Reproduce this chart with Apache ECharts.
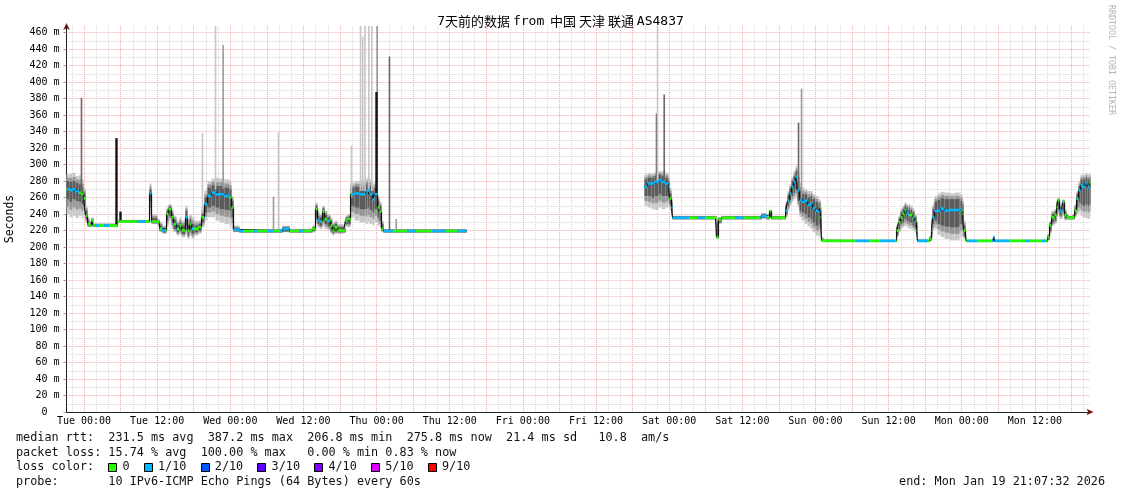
<!DOCTYPE html>
<html><head><meta charset="utf-8">
<script src="https://cdn.jsdelivr.net/npm/echarts@6/dist/echarts.min.js"></script>
<style>html,body{margin:0;padding:0;background:#fff}#c{width:1121px;height:494px}</style>
</head><body><div id="c"></div>
<script>
// ---- time axis: hours since start (Mon Jan 12 21:07:32) ----
const hours = [
 0,0.5,1,1.5,2,2.46,2.8,3.12,3.45,3.77,
 4.1,4.4,8.1,8.37,13.29,13.62,13.95,14.93,15.26,15.75,
 16.41,16.74,17.23,17.56,18.05,18.54,18.87,19.52,19.85,20.18,
 20.51,21,21.66,22.15,22.64,23.13,23.79,24.45,25.1,25.92,
 26.74,27.07,27.4,28.38,34,35.44,36.59,39.87,40.36,40.85,
 41.18,41.51,42,42.33,42.82,43.31,43.64,43.97,44.46,45.45,
 45.77,46.1,46.6,47.25,48.07,49.06,49.39,49.71,50.21,50.53,
 51.03,51.35,51.68,52.01,65.63,
 80,
 94.83,95.32,95.98,96.47,97.13,97.62,98.28,98.77,98.93,99.26,
 99.43,106.48,106.64,106.97,107.47,113.37,114,114.85,115.34,115.67,
 117.64,117.97,118.29,118.62,118.95,119.28,119.61,119.93,120.26,120.59,
 121.08,121.57,122.07,122.4,122.89,123.38,123.54,123.71,123.87,124.2,
 135.85,136.18,136.5,136.83,137.16,137.49,137.82,138.15,138.47,138.8,
 139.13,139.46,139.62,141.26,141.59,141.92,142.08,142.41,142.9,143.4,
 144.05,144.87,145.69,146.51,146.68,147.01,147.17,147.5,147.66,152,
 152.09,152.3,160.62,160.95,161.28,161.61,162.1,162.43,162.59,162.92,
 163.25,163.41,163.74,164.07,164.4,165.05,165.38,165.71,166.04,166.37,
 166.7,167.19,167.52,167.85,168
];
// median rtt (ms)
const median = [
 270,269,270,268,266,264,259,238,228,226,
 232,226,226,231,231,265,231,230,222,220,
 240,246,236,228,222,226,220,236,220,228,
 222,222,224,236,252,262,266,264,264,262,
 260,248,221,219.5,219.5,222,219.5,220,222,246,
 233,231,243,234,232,226,220,224,220,220,
 232,234,264,265,264,267,269,264,258,264,
 248,243,222,219.5,219.5,
 null,
 273,277,277,279,281,279,277,273,259,248,
 235.5,235.5,212,233,235.5,235.5,238,236,243.7,235.5,
 235.5,244,256,265,273,279,285,269,257,255,
 256,251,253,247,244,242,248,236,208,207.5,
 207.5,220,230,236,240,244.5,241,239,239,235.6,
 231,220,207.5,207.5,210,220,236,243.7,244,246.6,
 244,245,245,246.6,244,240,220,210,207.5,207.5,
 212,207.5,207.5,212,226,236,239,248.5,256.6,244.5,
 243,254.6,238.7,236,235.2,236,244.5,258.6,268.7,274.8,
 273,277,273,277,277
];
// smoke: full spread of the pings
const smokeLow = [
 240,236,238,235,238,235,240,230,224,224,
 225,224,224,229,229,240,228,226,218,216,
 225,232,222,218,214,216,212,216,210,214,
 210,214,216,224,232,236,236,232,230,228,
 226,222,218,217,217,218,217,217,218,228,
 224,222,226,222,220,216,214,216,216,217,
 224,224,236,232,230,228,230,228,226,230,
 226,224,218,217,217,
 null,
 250,248,246,245,248,246,248,252,245,238,
 233,233,210,228,233,233,234,233,235,233,
 233,236,244,250,255,258,260,248,236,232,
 228,225,222,218,214,212,214,212,206,206,
 206,212,218,222,224,226,224,222,222,220,
 218,212,206,206,207,212,220,222,215,212,
 210,208,208,210,212,212,210,207,206,206,
 206,206,206,208,216,226,228,234,240,234,
 234,238,232,233,233,233,236,240,242,238,
 236,235,234,236,236
];
const smokeHigh = [
 288,289,290,286,287,282,272,250,236,232,
 236,229,229,233,233,277,240,234,230,226,
 248,252,245,238,232,236,232,250,234,240,
 236,232,232,248,268,280,283,284,283,282,
 280,262,226,222,222,226,222,223,226,254,
 244,240,250,244,240,236,230,232,228,224,
 238,240,278,280,281,283,285,282,276,280,
 262,255,232,222,222,
 null,
 288,290,289,291,292,292,290,286,272,258,
 238,238,236,236,238,238,241,240,245,238,
 238,254,268,276,285,292,298,290,278,272,
 270,268,268,264,262,258,258,250,212,209,
 209,226,238,246,250,254,252,252,250,246,
 240,232,210,209,214,234,252,262,265,267,
 266,265,266,266,264,258,232,214,209,209,
 213,209,209,216,232,244,246,254,260,252,
 250,258,246,240,238,240,252,268,280,288,
 288,290,288,290,290
];
// smoke: dense core around the median
const coreLow = [
 258,255,258,256,255,252,250,234,226,225,
 228,225,225,230,230,255,229,228,220,218,
 232,238,230,222,218,220,216,226,214,220,
 216,218,220,230,242,248,250,248,246,245,
 244,236,219,218,218,219,218,218,220,236,
 228,226,232,228,225,220,217,219,218,218,
 228,228,250,248,246,246,248,245,242,246,
 236,232,220,218,218,
 null,
 262,262,260,262,264,262,262,262,252,242,
 234,234,211,230,234,234,236,234,236,234,
 234,240,250,257,262,266,270,256,244,242,
 240,236,234,230,226,224,228,222,207,207,
 207,215,222,228,230,234,232,230,230,226,
 224,216,207,207,208,216,228,232,228,226,
 225,224,224,226,228,226,214,208,207,207,
 207,207,207,209,220,230,232,240,246,238,
 238,244,235,234,234,234,240,248,254,252,
 250,252,250,252,252
];
const coreHigh = [
 280,279,280,278,276,272,266,244,232,228,
 234,227,227,232,232,270,235,232,226,223,
 244,249,240,233,227,230,226,244,226,234,
 228,226,228,242,260,272,275,274,274,272,
 270,256,223,221,221,224,221,221,224,250,
 238,236,247,239,236,231,225,228,224,222,
 235,237,272,273,273,276,278,274,268,272,
 256,250,228,221,221,
 null,
 282,284,284,286,288,286,284,280,265,253,
 237,237,230,235,237,237,240,238,244,237,
 237,250,262,271,280,286,292,280,268,264,
 264,260,262,258,255,252,254,244,210,208,
 208,224,234,242,246,250,248,246,245,242,
 236,226,208,208,212,228,246,255,257,259,
 258,258,258,259,256,252,226,212,208,208,
 210,208,208,214,229,240,243,252,258,248,
 246,256,242,238,237,238,248,264,274,282,
 282,284,282,284,284
];
// single-ping outliers (vertical smoke spikes)
const spikeHours = [2.46,8.2,8.86,22.3,24.45,25.7,33.96,34.78,46.76,48.24,48.6,48.97,49.6,50.09,50.98,50.86,52.99,54.1,96.8,96.97,98.06,120.1,120.59];
const spikeBase  = [262,226,231,240,270,270,220,222,260,268,268,268,268,268,265,262,220,220,280,280,280,268,260];
const spikeTop   = [381,332,243,338,468,445,261,339,323,468,455,468,468,468,468,388,431,234,362,468,385,351,392];
const spikeShade = [2,3,3,0,0,1,1,0,0,0,0,0,0,0,1,3,2,1,2,0,2,2,1];
// periods where the median shows 1/10 loss (else 0 loss)
const cyanSpans = [[0,2.1],[4.6,5.4],[6.2,7.0],[11.6,13.1],[13.5,14.0],[15.7,16.1],[17.9,18.2],[19.4,19.7],[20.5,20.8],[22.6,26.7],[27.5,29.0],[30.8,31.3],[33.0,34.0],[35.0,36.6],[38.2,39.0],[41.2,41.8],[42.8,43.3],[46.6,50.9],[52.0,53.5],[55.8,57.4],[60.0,62.3],[64.0,65.7],[94.8,98.8],[99.4,102.2],[103.4,104.7],[109.6,111.2],[113.7,115.0],[118.0,123.7],[129.6,131.7],[133.4,135.9],[137.5,138.3],[138.8,139.3],[139.6,141.3],[141.9,147.0],[147.7,149.4],[151.9,154.6],[157.3,158.0],[160.0,160.7],[163.0,163.5],[166.0,168.0]];

// ---- axes ----
const xLabels = ['Tue 00:00','Tue 12:00','Wed 00:00','Wed 12:00','Thu 00:00','Thu 12:00','Fri 00:00','Fri 12:00','Sat 00:00','Sat 12:00','Sun 00:00','Sun 12:00','Mon 00:00','Mon 12:00'];
const xLabelHours = [2.874,14.874,26.874,38.874,50.874,62.874,74.874,86.874,98.874,110.874,122.874,134.874,146.874,158.874];
const firstMajorHour = 2.874, majorStep = 6, minorStep = 2;
const yTickValues = [0,20,40,60,80,100,120,140,160,180,200,220,240,260,280,300,320,340,360,380,400,420,440,460];
const yMinorValues = [10,30,50,70,90,110,130,150,170,190,210,230,250,270,290,310,330,350,370,390,410,430,450];

// ---- legend text ----
const title = ['7','天前的数据',' ','from','  ','中国',' ','天津',' ','联通',' ','AS4837'];
const statLine1 = 'median rtt:  231.5 ms avg  387.2 ms max  206.8 ms min  275.8 ms now  21.4 ms sd   10.8  am/s';
const statLine2 = 'packet loss: 15.74 % avg  100.00 % max   0.00 % min 0.83 % now';
const lossTitle = 'loss color:';
const lossLabels = ['0','1/10','2/10','3/10','4/10','5/10','9/10'];
const lossColors = ['#26ff00','#00b8ff','#0059ff','#5e00ff','#7e00ff','#dd00ff','#ff0000'];
const probeLine = 'probe:       10 IPv6-ICMP Echo Pings (64 Bytes) every 60s';
const endLine = 'end: Mon Jan 19 21:07:32 2026';
const credit = 'RRDTOOL / TOBI OETIKER';

// ---- build ----
const MONO = 'DejaVu Sans Mono';
const CJK = 'Noto Sans CJK SC';
const majorHours = [], minorHours = [];
for (let h = firstMajorHour; h < 168; h += majorStep) majorHours.push(+h.toFixed(3));
for (let h = firstMajorHour - minorStep; h < 168; h += minorStep) {
  const v = +h.toFixed(3);
  if (!majorHours.some(m => Math.abs(m - v) < 1e-6)) minorHours.push(v);
}
// smoke cells: each sample held until the next sample
const smokeData = [];
for (let i = 0; i < hours.length - 1; i++) {
  if (smokeLow[i] == null || smokeLow[i + 1] == null) continue;
  smokeData.push([hours[i], smokeLow[i], smokeHigh[i], coreLow[i], coreHigh[i], hours[i + 1]]);
}
// median: black step path + coloured horizontal holds
const stepPts = [], segs = [];
for (let i = 0; i < hours.length; i++) {
  if (median[i] == null) { stepPts.push([hours[i], null]); continue; }
  stepPts.push([hours[i], median[i]]);
  if (i + 1 < hours.length && median[i + 1] != null) {
    stepPts.push([hours[i + 1], median[i]]);
    segs.push([hours[i], median[i]], [hours[i + 1], median[i]], [hours[i + 1], null]);
  }
}
const GREEN = lossColors[0], CYAN = lossColors[1];
const pieces = [];
let prev = -1;
cyanSpans.forEach(s => {
  if (s[0] > prev) pieces.push({gte: prev, lt: s[0], color: GREEN});
  pieces.push({gte: s[0], lt: s[1], color: CYAN});
  prev = s[1];
});
pieces.push({gte: prev, lte: 200, color: GREEN});

const shadeColors = ['#c6c6c6', '#9a9a9a', '#666666', '#141414'];
const shadeWidths = [1.6, 1.6, 1.6, 2.4];
const spikeData = spikeHours.map((h, i) => [h, spikeBase[i], spikeTop[i], spikeShade[i]]);

const rich = {m: {fontFamily: MONO, fontSize: 13, fill: '#000'}, c: {fontFamily: CJK, fontSize: 13, fill: '#000'}};
const titleText = title.map(t => /^[\x21-\x7e]+$/.test(t) ? '{m|' + t + '}' : '{c|' + t + '}').join('');

const CH = 7.1, LX = 16, FS = 11.8;
const rows = [438, 452.5, 467, 481.5];
const txt = (x, y, s, extra) => Object.assign({type: 'text', x: x, y: y, silent: true,
  style: {text: s, fontFamily: MONO, fontSize: FS, fill: '#111', align: 'left', verticalAlign: 'middle', textAlign: 'left', textVerticalAlign: 'middle'}}, extra || {});
const graphics = [
  {type: 'text', x: 560.5, y: 21.5, silent: true, style: {text: titleText, rich: rich, fontFamily: MONO, fontSize: 13, fill: '#000', align: 'center', verticalAlign: 'middle', textAlign: 'center', textVerticalAlign: 'middle'}},
  {type: 'text', x: 1111.5, y: 5, rotation: -Math.PI / 2, silent: true, style: {text: credit, fontFamily: MONO, fontSize: 8.3, fill: '#b4b4b4', align: 'left', verticalAlign: 'middle', textAlign: 'left', textVerticalAlign: 'middle'}},
  txt(LX, rows[0], statLine1),
  txt(LX, rows[1], statLine2),
  txt(LX, rows[2], lossTitle),
  txt(LX, rows[3], probeLine),
  {type: 'text', x: 1105, y: rows[3], silent: true, style: {text: endLine, fontFamily: MONO, fontSize: FS, fill: '#111', align: 'right', verticalAlign: 'middle', textAlign: 'right', textVerticalAlign: 'middle'}}
];
let col = 13;
lossLabels.forEach((lab, i) => {
  const x0 = LX + col * CH;
  graphics.push({type: 'rect', silent: true, shape: {x: Math.round(x0) + 0.5, y: Math.round(rows[2] - 4.5) + 0.5, width: 8, height: 8}, style: {fill: lossColors[i], stroke: '#000', lineWidth: 1}});
  graphics.push(txt(x0 + 2 * CH, rows[2], lab));
  col += 2 + lab.length + 2;
});

const xFmt = v => { const i = xLabelHours.findIndex(h => Math.abs(h - v) < 1e-6); return i >= 0 ? xLabels[i] : ''; };
const yFmt = v => v === 0 ? '0  ' : (v % 20 === 0 ? v + ' m' : '');
const ARROW = '#8b1010';
const MAJOR = '#f3a9a9', MINOR = '#d6d6d6';

const option = {
  backgroundColor: '#ffffff',
  animation: false,
  grid: {left: 66.5, right: 30.5, top: 26, bottom: 82, containLabel: false, outerBoundsMode: 'none'},
  xAxis: [
    {type: 'value', min: 0, max: 168, position: 'bottom', z: 1,
     axisLine: {show: true, onZero: false, lineStyle: {color: '#222', width: 1}},
     axisTick: {show: false, customValues: majorHours},
     axisLabel: {customValues: xLabelHours, formatter: xFmt, fontFamily: MONO, fontSize: 10, color: '#000', margin: 4},
     splitLine: {show: true, lineStyle: {color: MAJOR, width: 1, type: [1, 1]}}},
    {type: 'value', min: 0, max: 168, position: 'bottom', z: 0,
     axisLine: {show: true, onZero: false, symbol: ['none', 'arrow'], symbolSize: [5, 7], symbolOffset: [0, 3], lineStyle: {color: ARROW, width: 1}},
     axisTick: {show: false, customValues: minorHours},
     axisLabel: {show: false},
     splitLine: {show: true, lineStyle: {color: MINOR, width: 1, type: [1, 1]}}}
  ],
  yAxis: [
    {type: 'value', min: 0, max: 468, position: 'left', z: 1,
     name: 'Seconds', nameLocation: 'middle', nameGap: 50, nameRotate: 90,
     nameTextStyle: {fontFamily: MONO, fontSize: 11.5, color: '#000'},
     axisLine: {show: true, onZero: false, lineStyle: {color: '#222', width: 1}},
     axisTick: {show: true, length: 3, customValues: yTickValues, lineStyle: {color: '#999'}},
     axisLabel: {customValues: yTickValues, formatter: yFmt, fontFamily: MONO, fontSize: 10, color: '#000', margin: 7},
     splitLine: {show: true, lineStyle: {color: MAJOR, width: 1, type: [1, 1]}}},
    {type: 'value', min: 0, max: 468, position: 'left', z: 0,
     axisLine: {show: true, onZero: false, symbol: ['none', 'arrow'], symbolSize: [5, 7], symbolOffset: [0, 3], lineStyle: {color: ARROW, width: 1}},
     axisTick: {show: false, customValues: yMinorValues},
     axisLabel: {show: false},
     splitLine: {show: true, lineStyle: {color: MINOR, width: 1, type: [1, 1]}}}
  ],
  visualMap: [{type: 'piecewise', show: false, dimension: 0, seriesIndex: 3, pieces: pieces}],
  graphic: graphics,
  series: [
    {name: 'smoke', type: 'custom', data: smokeData, clip: true, silent: true,
     encode: {x: [0, 5], y: [1, 2]},
     renderItem: (params, api) => {
       const h0 = api.value(0), h1 = api.value(5);
       const lo = api.value(1), hi = api.value(2), cl = api.value(3), ch = api.value(4);
       const band = (a, b, fill) => {
         const p0 = api.coord([h0, b]), p1 = api.coord([h1, a]);
         return {type: 'rect', shape: {x: p0[0], y: p0[1], width: Math.max(p1[0] - p0[0], 0.6), height: Math.max(p1[1] - p0[1], 1)}, style: {fill: fill}};
       };
       return {type: 'group', children: [
         band(lo, hi, '#c8c8c8'),
         band((lo + cl) / 2, (hi + ch) / 2, '#979797'),
         band(cl, ch, '#5c5c5c')
       ]};
     }},
    {name: 'spikes', type: 'custom', data: spikeData, clip: true, silent: true,
     encode: {x: 0, y: [1, 2]},
     renderItem: (params, api) => {
       const lv = api.value(3);
       const p0 = api.coord([api.value(0), api.value(1)]);
       const p1 = api.coord([api.value(0), api.value(2)]);
       const w = shadeWidths[lv];
       return {type: 'rect', shape: {x: p0[0] - w / 2, y: p1[1], width: w, height: p0[1] - p1[1]}, style: {fill: shadeColors[lv]}};
     }},
    {name: 'medianCore', type: 'line', data: stepPts, symbol: 'none', connectNulls: false, lineStyle: {color: '#111', width: 1.2}, silent: true},
    {name: 'median', type: 'line', data: segs, symbol: 'none', connectNulls: false, lineStyle: {width: 2.6, cap: 'butt'}, silent: true}
  ]
};
const chart = echarts.init(document.getElementById('c'), null, {renderer: 'canvas', width: 1121, height: 494});
chart.setOption(option);
</script>
</body></html>
